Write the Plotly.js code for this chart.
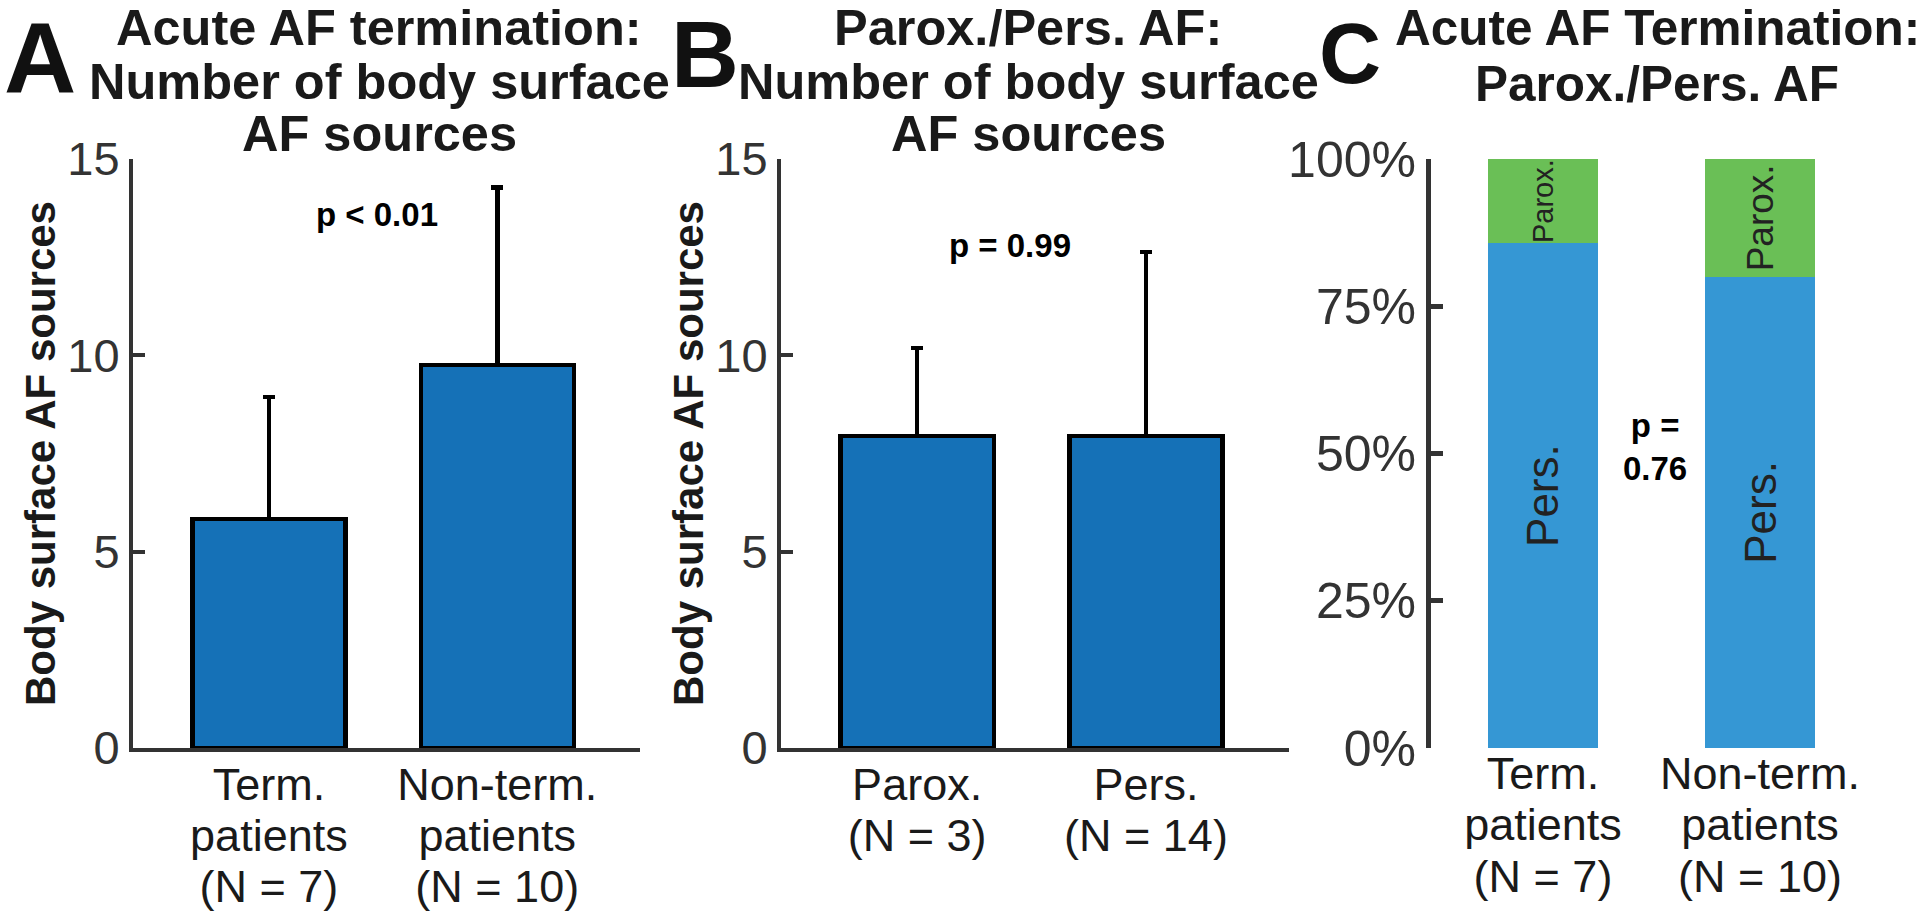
<!DOCTYPE html>
<html>
<head>
<meta charset="utf-8">
<script src="https://cdn.plot.ly/plotly-3.0.1.min.js"></script>
<style>
  html, body { margin: 0; padding: 0; background: #ffffff; }
  #chart { width: 1920px; height: 918px; }
</style>
</head>
<body>
<div id="chart"></div>
<script>
// ---------------- Data ----------------
// Panel A: acute AF termination vs number of body surface AF sources
const catA = [1, 2];
const labelsA = [["Term.", "patients", "(N = 7)"], ["Non-term.", "patients", "(N = 10)"]];
const meanA = [5.83, 9.75];
const sdA = [3.11, 4.53];
const pA = "p < 0.01";

// Panel B: paroxysmal vs persistent AF
const catB = [1, 2];
const labelsB = [["Parox.", "(N = 3)"], ["Pers.", "(N = 14)"]];
const meanB = [7.94, 7.94];
const sdB = [2.25, 4.69];
const pB = "p = 0.99";

// Panel C: AF type share (%) in terminated / non-terminated patients
const catC = [1, 2];
const labelsC = [["Term.", "patients", "(N = 7)"], ["Non-term.", "patients", "(N = 10)"]];
const persC = [85.7, 80.0];
const paroxC = [14.3, 20.0];
const pC = "p =<br>0.76";

const yTicksAB = [0, 5, 10, 15];
const yTicksC = [0, 25, 50, 75, 100];
const yTickTextC = ["0%", "25%", "50%", "75%", "100%"];

// ---------------- Style helpers ----------------
const FONT = "Liberation Sans, Arial, Helvetica, sans-serif";
const W = 1920, H = 918;
const px = v => v / W;
const py = v => 1 - v / H;
const tickText = lines => lines.map(l => '<span style="font-size:45px">' + l + '</span>').join('<br>');

const barBlue = '#1571b7';
const cBlue = '#3597d4';
const cGreen = '#6abf56';

function barTrace(x, y, sd, xa, ya) {
  return {
    type: 'bar', x: x, y: y, xaxis: xa, yaxis: ya, width: 0.67,
    marker: { color: barBlue, line: { color: '#000000', width: 4.5 } },
    error_y: { type: 'data', symmetric: false, array: sd, arrayminus: sd.map(() => 0),
               color: '#000000', thickness: 4.5, width: 6 },
    hoverinfo: 'skip', showlegend: false
  };
}

const traces = [
  barTrace(catA, meanA, sdA, 'x', 'y'),
  barTrace(catB, meanB, sdB, 'x2', 'y2'),
  {
    type: 'bar', x: catC, y: persC, xaxis: 'x3', yaxis: 'y3', width: 0.51,
    marker: { color: cBlue, line: { width: 0 } },
    text: ['Pers.', 'Pers.'], textposition: 'inside', insidetextanchor: 'middle',
    textangle: -90, constraintext: 'none',
    textfont: { family: FONT, size: [44, 44], color: '#222222' },
    hoverinfo: 'skip', showlegend: false
  },
  {
    type: 'bar', x: catC, y: paroxC, xaxis: 'x3', yaxis: 'y3', width: 0.51,
    marker: { color: cGreen, line: { width: 0 } },
    text: ['Parox.', 'Parox.'], textposition: 'inside', insidetextanchor: 'middle',
    textangle: -90, constraintext: 'none',
    textfont: { family: FONT, size: [29, 37], color: '#222222' },
    hoverinfo: 'skip', showlegend: false
  }
];

const yDomain = [py(748), py(159)];

function yAxis(range, vals, extra) {
  return Object.assign({
    domain: yDomain, range: range, tickvals: vals,
    ticks: 'inside', ticklen: 12, tickwidth: 4, tickcolor: '#333333',
    showline: true, linecolor: '#333333', linewidth: 4,
    showgrid: false, zeroline: false, fixedrange: true,
    tickfont: { family: FONT, size: 47, color: '#333333' }
  }, extra || {});
}

function xAxis(domain, range, labels, anchor, showLine) {
  return {
    domain: domain, range: range, anchor: anchor,
    tickvals: [1, 2], ticktext: labels.map(tickText),
    ticks: '', showline: showLine, linecolor: '#333333', linewidth: 4,
    showgrid: false, zeroline: false, fixedrange: true,
    tickfont: { family: FONT, size: 39.6, color: '#1a1a1a' }
  };
}

const yTitle = {
  text: 'Body surface AF sources',
  font: { family: FONT, size: 42, color: '#1a1a1a', weight: 'bold' },
  standoff: 0
};

const ann = [];
function addText(text, x, y, size, bold, extra) {
  ann.push(Object.assign({
    text: bold ? '<b>' + text + '</b>' : text,
    xref: 'paper', yref: 'paper', x: px(x), y: py(y),
    xanchor: 'center', yanchor: 'middle', showarrow: false,
    font: { family: FONT, size: size, color: '#1a1a1a' }
  }, extra || {}));
}

// Panel letters (anchored near the top edge of the figure)
addText('A', 40, 0, 100, true, { yanchor: 'top', font: { family: FONT, size: 100, color: '#111111' } });
addText('B', 705, 0, 94, true, { yanchor: 'top', font: { family: FONT, size: 94, color: '#111111' } });
addText('C', 1350, 3, 86, true, { yanchor: 'top', font: { family: FONT, size: 86, color: '#111111' } });

// Panel titles (one annotation per line)
const titleA = ['Acute AF termination:', 'Number of body surface', 'AF sources'];
const titleB = ['Parox./Pers. AF:', 'Number of body surface', 'AF sources'];
const titleC = ['Acute AF Termination:', 'Parox./Pers. AF'];
const titleMidY = [28, 81, 134];
titleA.forEach((t, i) => addText(t, 379, titleMidY[i], 50.5, true));
titleB.forEach((t, i) => addText(t, 1028, titleMidY[i], 50.5, true));
titleC.forEach((t, i) => addText(t, 1657, [28, 83][i], 49.5, true));

// p-values in data coordinates
const pFont = { family: FONT, size: 33, color: '#000000' };
ann.push({ text: '<b>' + pA + '</b>', xref: 'x', yref: 'y', x: 1.473, y: 13.58,
           showarrow: false, xanchor: 'center', yanchor: 'middle', font: pFont });
ann.push({ text: '<b>' + pB + '</b>', xref: 'x2', yref: 'y2', x: 1.406, y: 12.8,
           showarrow: false, xanchor: 'center', yanchor: 'middle', font: pFont });
ann.push({ text: '<b>' + pC + '</b>', xref: 'x3', yref: 'y3', x: 1.518, y: 51.1,
           showarrow: false, xanchor: 'center', yanchor: 'middle', align: 'center', font: pFont });

const layout = {
  width: W, height: H,
  margin: { l: 0, r: 0, t: 0, b: 0 },
  paper_bgcolor: '#ffffff', plot_bgcolor: 'rgba(0,0,0,0)',
  barmode: 'stack', showlegend: false,
  font: { family: FONT },
  xaxis: xAxis([px(133), px(640)], [0.405, 2.625], labelsA, 'y', true),
  yaxis: yAxis([0, 15], yTicksAB, { anchor: 'x', title: yTitle }),
  xaxis2: xAxis([px(781), px(1289)], [0.405, 2.625], labelsB, 'y2', true),
  yaxis2: yAxis([0, 15], yTicksAB, { anchor: 'x2', title: yTitle }),
  xaxis3: xAxis([px(1431), px(1900)], [0.484, 2.645], labelsC, 'y3', false),
  yaxis3: yAxis([0, 100], yTicksC, { anchor: 'x3', ticktext: yTickTextC, linewidth: 5, tickwidth: 5,
                                     tickfont: { family: FONT, size: 50, color: '#333333' } }),
  annotations: ann
};

Plotly.newPlot('chart', traces, layout, { displayModeBar: false, staticPlot: true });
</script>
</body>
</html>
